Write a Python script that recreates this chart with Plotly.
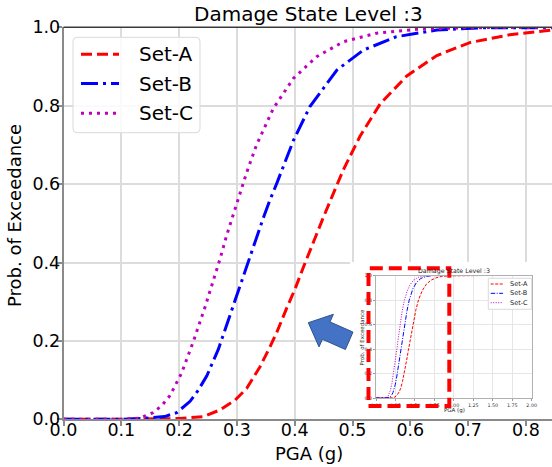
import plotly.graph_objects as go

W, H = 552, 467

# ---------------- data ----------------
set_a_x = [0.0, 0.10, 0.20, 0.242, 0.271, 0.297, 0.317, 0.340, 0.357, 0.369, 0.386, 0.401,
           0.415, 0.432, 0.449, 0.464, 0.484, 0.513, 0.548, 0.594, 0.646, 0.703, 0.772,
           0.845, 0.95, 1.10, 1.40, 2.00]
set_a_y = [0.0, 0.0, 0.002, 0.007, 0.024, 0.049, 0.079, 0.134, 0.184, 0.222, 0.283, 0.334,
           0.388, 0.452, 0.513, 0.566, 0.636, 0.722, 0.805, 0.876, 0.928, 0.961, 0.981,
           0.993, 0.997, 0.999, 1.0, 1.0]

set_b_x = [0.0, 0.10, 0.144, 0.175, 0.196, 0.219, 0.233, 0.248, 0.268, 0.282, 0.300, 0.317,
           0.331, 0.346, 0.357, 0.369, 0.398, 0.426, 0.473, 0.519, 0.576, 0.646, 0.726, 0.845,
           1.0, 2.0]
set_b_y = [0.0, 0.0, 0.003, 0.007, 0.017, 0.046, 0.074, 0.111, 0.179, 0.240, 0.318, 0.392,
           0.452, 0.515, 0.559, 0.602, 0.712, 0.797, 0.891, 0.942, 0.976, 0.993, 0.999, 1.0,
           1.0, 1.0]

set_c_x = [0.0, 0.10, 0.132, 0.155, 0.170, 0.184, 0.204, 0.225, 0.245, 0.259, 0.271, 0.282,
           0.297, 0.317, 0.334, 0.363, 0.398, 0.438, 0.484, 0.542, 0.611, 0.70, 0.845, 1.0, 2.0]
set_c_y = [0.0, 0.0, 0.003, 0.017, 0.035, 0.060, 0.117, 0.200, 0.287, 0.350, 0.410, 0.468,
           0.540, 0.630, 0.700, 0.793, 0.870, 0.925, 0.963, 0.985, 0.995, 0.999, 1.0, 1.0, 1.0]

series_names = ["Set-A", "Set-B", "Set-C"]

pga_ticks = [0.0, 0.1, 0.2, 0.3, 0.4, 0.5, 0.6, 0.7, 0.8]
pga_labels = ["0.0", "0.1", "0.2", "0.3", "0.4", "0.5", "0.6", "0.7", "0.8"]
prob_ticks = [0.0, 0.2, 0.4, 0.6, 0.8, 1.0]
prob_labels = ["0.0", "0.2", "0.4", "0.6", "0.8", "1.0"]
inset_pga_ticks = [0.0, 0.25, 0.5, 0.75, 1.0, 1.25, 1.5, 1.75, 2.0]
inset_pga_labels = ["0.00", "0.25", "0.50", "0.75", "1.00", "1.25", "1.50", "1.75", "2.00"]

title_text = "Damage State Level :3"
x_title = "PGA (g)"
y_title = "Prob. of Exceedance"

# ---------------- layout helpers ----------------
FONT = "DejaVu Sans"
RED, BLUE, MAG = "#ff0000", "#0000ff", "#bf00bf"


def fx(p):
    return p / W


def fy(p):
    return 1 - p / H


# main plot area in pixels
MX0, MX1, MY0, MY1 = 63.5, 552.0, 419.3, 27.3
XMAX = (MX1 - MX0) / 578.0


def dx(p):  # pixel -> main data x
    return (p - MX0) / (MX1 - MX0) * XMAX


def dy(p):  # pixel -> main data y
    return (MY0 - p) / (MY0 - MY1)


# inset plot area in pixels
IX0, IX1, IY0, IY1 = 376.0, 531.7, 398.0, 275.5

fig = go.Figure()

# white background of the pasted inset picture (hides main grid)
fig.add_trace(go.Scatter(
    x=[dx(350), dx(560), dx(560), dx(350), dx(350)],
    y=[dy(262), dy(262), 0, 0, dy(262)],
    mode="lines", fill="toself", fillcolor="white", line=dict(width=0),
    hoverinfo="skip", showlegend=False, xaxis="x", yaxis="y"))

styles = [
    (set_a_x, set_a_y, RED, "11px,5px", "3px,1.5px"),
    (set_b_x, set_b_y, BLUE, "17px,5px,3px,5px", "4.5px,1.5px,1px,1.5px"),
    (set_c_x, set_c_y, MAG, "3px,5px", "1px,1.5px"),
]

for name, (xs, ys, col, dash, idash) in zip(series_names, styles):
    fig.add_trace(go.Scatter(
        x=xs, y=ys, name=name, mode="lines", showlegend=False,
        line=dict(color=col, width=3, dash=dash),
        xaxis="x", yaxis="y"))

for name, (xs, ys, col, dash, idash) in zip(series_names, styles):
    fig.add_trace(go.Scatter(
        x=xs, y=ys, name=name, mode="lines", showlegend=False,
        line=dict(color=col, width=1, dash=idash),
        xaxis="x2", yaxis="y2"))

axis_common = dict(
    showline=True, linecolor="#8a8a8a", linewidth=1.5,
    ticks="outside", ticklen=5, tickwidth=1.5, tickcolor="#8a8a8a",
    showgrid=True, gridcolor="#dcdcdc", gridwidth=1.5,
    zeroline=False, automargin=False, fixedrange=True,
    tickfont=dict(family=FONT, size=17.5, color="black"),
)

inset_common = dict(
    showline=True, mirror=True, linecolor="#b0b0b0", linewidth=0.8,
    ticks="outside", ticklen=2, tickwidth=0.6, tickcolor="#999999",
    showgrid=True, gridcolor="#e6e6e6", gridwidth=0.6,
    zeroline=False, automargin=False, fixedrange=True,
    tickfont=dict(family=FONT, size=4.8, color="#333333"),
)

fig.update_layout(
    width=W, height=H, autosize=False,
    margin=dict(l=0, r=0, t=0, b=0, pad=0),
    paper_bgcolor="white", plot_bgcolor="white",
    font=dict(family=FONT, color="black"),
    xaxis=dict(domain=[fx(MX0), fx(MX1)], range=[0, XMAX], anchor="y",
               tickvals=pga_ticks, ticktext=pga_labels, ticklabelstandoff=-11,
               **axis_common),
    yaxis=dict(domain=[fy(MY0), fy(MY1)], range=[0, 1], anchor="x",
               tickvals=prob_ticks, ticktext=prob_labels, ticklabelstandoff=-7,
               **axis_common),
    xaxis2=dict(domain=[fx(IX0), fx(IX1)], range=[0, 2], anchor="y2",
                tickvals=inset_pga_ticks, ticktext=inset_pga_labels, **inset_common),
    yaxis2=dict(domain=[fy(IY0), fy(IY1)], range=[0, 1], anchor="x2",
                tickvals=prob_ticks, ticktext=prob_labels, **inset_common),
    showlegend=False,
)

ann = [
    dict(text=title_text, x=fx(308), y=fy(14), font=dict(size=20)),
    dict(text=x_title, x=fx(309), y=fy(453), font=dict(size=18)),
    dict(text=y_title, x=fx(15), y=fy(216), textangle=-90, font=dict(size=18)),
    dict(text=title_text, x=fx(453.5), y=fy(271), font=dict(size=6.3, color="#222")),
    dict(text=x_title, x=fx(454), y=fy(410.5), font=dict(size=5.5, color="#222")),
    dict(text=y_title, x=fx(361.5), y=fy(337), textangle=-90, font=dict(size=5.5, color="#222")),
]
for a in ann:
    a.update(xref="paper", yref="paper", showarrow=False, xanchor="center", yanchor="middle")
    a["font"].setdefault("family", FONT)
    fig.add_annotation(**a)

shapes = []
# top spine of main axes
shapes.append(dict(type="line", xref="paper", yref="paper",
                   x0=fx(MX0), x1=fx(MX1), y0=fy(MY1), y1=fy(MY1),
                   line=dict(color="#3a3a3a", width=1.5)))


def rounded_rect(x0, y0, x1, y1, r):
    pts = [f"M {fx(x0 + r)},{fy(y0)}", f"L {fx(x1 - r)},{fy(y0)}",
           f"Q {fx(x1)},{fy(y0)} {fx(x1)},{fy(y0 + r)}", f"L {fx(x1)},{fy(y1 - r)}",
           f"Q {fx(x1)},{fy(y1)} {fx(x1 - r)},{fy(y1)}", f"L {fx(x0 + r)},{fy(y1)}",
           f"Q {fx(x0)},{fy(y1)} {fx(x0)},{fy(y1 - r)}", f"L {fx(x0)},{fy(y0 + r)}",
           f"Q {fx(x0)},{fy(y0)} {fx(x0 + r)},{fy(y0)}", "Z"]
    return " ".join(pts)


# main legend (matplotlib-like)
shapes.append(dict(type="path", xref="paper", yref="paper",
                   path=rounded_rect(73, 37.3, 200, 132.7, 4),
                   line=dict(color="#d9d9d9", width=1), fillcolor="rgba(255,255,255,0.85)"))
for (name, (xs, ys, col, dash, idash)), ly in zip(zip(series_names, styles), [54.3, 83.5, 113.3]):
    shapes.append(dict(type="line", xref="paper", yref="paper",
                       x0=fx(81), x1=fx(119), y0=fy(ly), y1=fy(ly),
                       line=dict(color=col, width=3, dash=dash)))
    fig.add_annotation(text=name, xref="paper", yref="paper", x=fx(137), y=fy(ly),
                       xanchor="left", yanchor="middle", showarrow=False,
                       font=dict(family=FONT, size=20, color="black"))

# inset legend (hand drawn, matplotlib-like)
shapes.append(dict(type="rect", xref="paper", yref="paper",
                   x0=fx(488.3), x1=fx(531.7), y0=fy(309.3), y1=fy(278.3),
                   line=dict(color="#d0d0d0", width=0.8), fillcolor="white"))
for (name, (xs, ys, col, dash, idash)), ly in zip(zip(series_names, styles), [284, 293.3, 302.7]):
    shapes.append(dict(type="line", xref="paper", yref="paper",
                       x0=fx(490.7), x1=fx(503), y0=fy(ly), y1=fy(ly),
                       line=dict(color=col, width=1, dash=idash)))
    fig.add_annotation(text=name, xref="paper", yref="paper", x=fx(507.5), y=fy(ly),
                       xanchor="left", yanchor="middle", showarrow=False,
                       font=dict(family=FONT, size=6.5, color="#222"))

# red dashed highlight box
shapes.append(dict(type="rect", xref="paper", yref="paper",
                   x0=fx(368.5), x1=fx(449.3), y0=fy(406), y1=fy(268.3),
                   line=dict(color=RED, width=4, dash="13px,6px")))

# blue block arrow
arrow_px = [(308.3, 322.7), (333.4, 314.3), (330.0, 321.9), (353.0, 332.1),
            (345.4, 349.5), (322.4, 339.3), (319.0, 346.9)]
path = "M " + " L ".join(f"{fx(a):.5f},{fy(b):.5f}" for a, b in arrow_px) + " Z"
shapes.append(dict(type="path", xref="paper", yref="paper", path=path,
                   fillcolor="#4472c4", line=dict(color="#2f528f", width=1)))

fig.update_layout(shapes=shapes)

fig.write_html("out.html")
